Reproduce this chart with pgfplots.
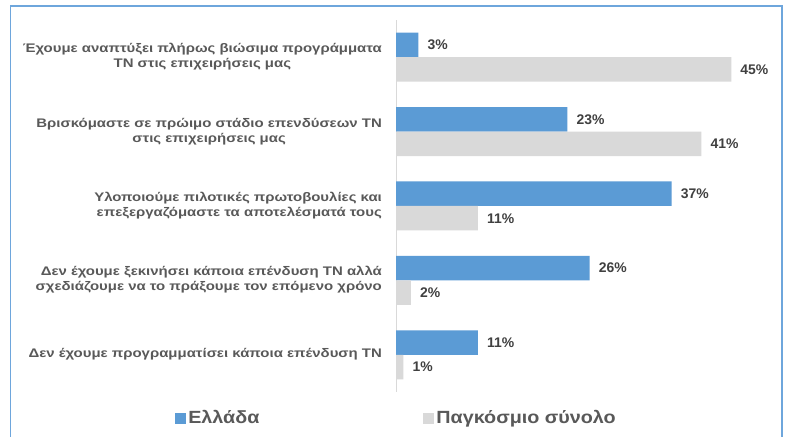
\documentclass[border=0pt]{standalone}
\usepackage{pgfplots}
\pgfplotsset{compat=1.18}
\usepackage{fontspec}
\setmainfont{Liberation Sans}
\newfontfamily\labfont{Liberation Sans}[FakeStretch=1.2]
\newfontfamily\legfont{Liberation Sans}[FakeStretch=1.12]
\definecolor{grblue}{HTML}{5B9BD5}
\definecolor{wgray}{HTML}{D9D9D9}
\definecolor{labgray}{HTML}{595959}
\definecolor{numgray}{HTML}{404040}
\definecolor{framecol}{HTML}{6EA6DC}
\begin{document}
\begin{tikzpicture}
\useasboundingbox (0,0) rectangle (787bp,437bp);
\fill[white] (0,0) rectangle (787bp,437bp);
\draw[framecol, line width=1.2bp] (10.6bp,-5bp) -- (10.6bp,431bp) -- (782bp,431bp) -- (782bp,-5bp);
\begin{axis}[
  at={(396bp,45bp)}, anchor=south west,
  scale only axis, width=372.5bp, height=372bp,
  xbar, bar width=24.5bp,
  xmin=0, xmax=50, ymin=0.5, ymax=5.5,
  hide x axis,
  axis y line*=left,
  y axis line style={-, draw=wgray, line width=1bp},
  ytick={1,2,3,4,5}, major tick length=0,
  yticklabels={
    {\begin{tabular}{@{}c@{}}Δεν έχουμε προγραμματίσει  κάποια επένδυση ΤΝ\end{tabular}},
    {\begin{tabular}{@{}r@{}}Δεν έχουμε ξεκινήσει κάποια επένδυση ΤΝ αλλά\\σχεδιάζουμε να το πράξουμε τον επόμενο χρόνο\end{tabular}},
    {\begin{tabular}{@{}r@{}}Υλοποιούμε πιλοτικές πρωτοβουλίες και\\επεξεργαζόμαστε τα αποτελέσματά  τους\end{tabular}},
    {\begin{tabular}{@{}c@{}}Βρισκόμαστε σε πρώιμο στάδιο επενδύσεων ΤΝ\\στις επιχειρήσεις μας\end{tabular}},
    {\begin{tabular}{@{}c@{}}Έχουμε αναπτύξει πλήρως βιώσιμα προγράμματα\\ΤΝ στις επιχειρήσεις μας\end{tabular}}
  },
  yticklabel style={font=\labfont\bfseries\fontsize{12.5}{15}\selectfont, text=labgray, anchor=east, inner sep=0pt, xshift=-14bp},
  point meta=x,
  /pgf/number format/assume math mode=true,
  nodes near coords={\pgfmathprintnumber[assume math mode=true]{\pgfplotspointmeta}\%},
  every node near coord/.append style={font=\bfseries\fontsize{14}{16}\selectfont, text=numgray, anchor=west, inner sep=0pt, xshift=9bp},
  legend image code/.code={\fill[#1] (0bp,-5.5bp) rectangle (11bp,5.5bp);},
  legend style={draw=none, fill=none, at={(-0.593,-0.07)}, anchor=west, legend columns=2,
    inner sep=0pt, font=\legfont\bfseries\fontsize{17.7}{20}\selectfont, text=labgray,
    nodes={inner sep=2bp},
    /tikz/every even column/.append style={column sep=162bp}},
  legend cell align=left,
]
\addplot[fill=grblue, draw=none, bar shift=12.25bp] coordinates {(3,5) (23,4) (37,3) (26,2) (11,1)};
\addplot[fill=wgray, draw=none, bar shift=-12.25bp] coordinates {(45,5) (41,4) (11,3) (2,2) (1,1)};
\legend{Ελλάδα, Παγκόσμιο σύνολο}
\end{axis}
\end{tikzpicture}
\end{document}
